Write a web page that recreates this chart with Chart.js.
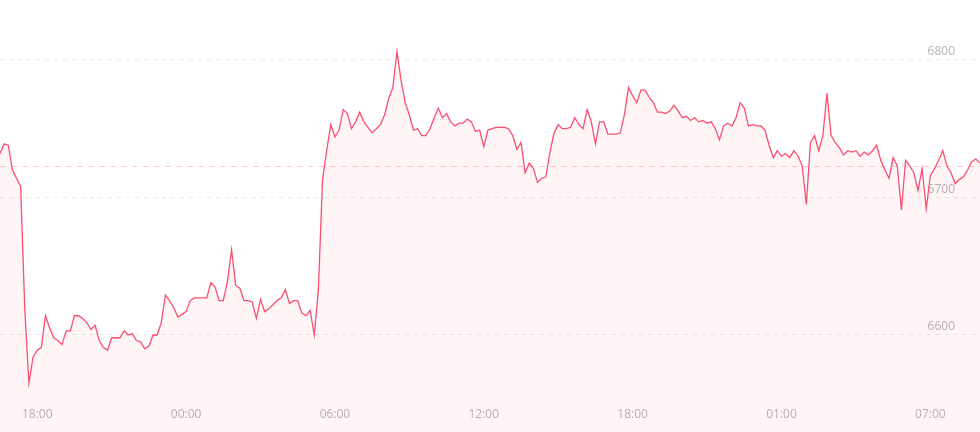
<!DOCTYPE html>
<html>
<head>
<meta charset="utf-8">
<script src="https://cdn.jsdelivr.net/npm/chart.js@4.4.1/dist/chart.umd.min.js"></script>
<style>
  html, body { margin: 0; padding: 0; background: #fff; }
  #wrap { width: 980px; height: 432px; }
</style>
</head>
<body>
<div id="wrap"><canvas id="chart"></canvas></div>
<script>
// 10-minute prices, first point 16:30, one hour missing overnight (00:00-00:50 of day 2)
const prices = [
  6732, 6739, 6738, 6720, 6714, 6708, 6618, 6565, 6584, 6589,
  6591, 6614, 6605, 6598, 6596, 6593, 6603, 6603, 6614, 6614,
  6612, 6609, 6604, 6607, 6596, 6591, 6589, 6598, 6598, 6598,
  6603, 6600, 6601, 6596, 6595, 6590, 6592, 6600, 6600, 6609,
  6629, 6625, 6620, 6613, 6615, 6617, 6625, 6627, 6627, 6627,
  6627, 6638, 6635, 6625, 6625, 6639, 6662, 6636, 6634, 6625,
  6625, 6624, 6612, 6626, 6617, 6619, 6622, 6625, 6627, 6633,
  6623, 6625, 6625, 6616, 6614, 6618, 6600, 6633, 6713, 6734,
  6753, 6744, 6749, 6764, 6761, 6750, 6755, 6762, 6755, 6751,
  6747, 6750, 6753, 6760, 6772, 6780, 6806, 6785, 6769, 6760,
  6749, 6750, 6745, 6745, 6750, 6758, 6765, 6758, 6761, 6755,
  6752, 6754, 6754, 6757, 6755, 6748, 6749, 6737, 6749, 6750,
  6751, 6751, 6751, 6750, 6745, 6735, 6740, 6718, 6725, 6721,
  6711, 6714, 6715, 6733, 6747, 6753, 6750, 6750, 6751, 6758,
  6753, 6750, 6764, 6755, 6739, 6755, 6755, 6746, 6746, 6746,
  6747, 6760, 6780, 6774, 6769, 6778, 6778, 6773, 6769, 6762,
  6762, 6761, 6763, 6767, 6763, 6758, 6759, 6756, 6758, 6755,
  6756, 6754, 6755, 6750, 6742, 6752, 6754, 6752, 6758, 6769,
  6765, 6752, 6753, 6752, 6752, 6749, 6738, 6729, 6734, 6730,
  6732, 6729, 6734, 6730, 6723, 6695, 6740, 6745, 6734, 6745,
  6776, 6745, 6740, 6736, 6731, 6734, 6733, 6734, 6730, 6733,
  6731, 6734, 6738, 6727, 6720, 6714, 6729, 6723, 6691, 6727,
  6723, 6718, 6705, 6721, 6692, 6716, 6721, 6727, 6734, 6723,
  6718, 6710, 6713, 6715, 6720, 6726, 6728, 6725
];
const prevClose = 6723;
const yTicks = [6600, 6700, 6800];
const xTickLabels = ["18:00", "00:00", "06:00", "12:00", "18:00", "01:00", "07:00"];

// time labels for the category axis
const times = [];
let mins = 16 * 60 + 30;
for (let i = 0; i < prices.length; i++) {
  if (i === 184) mins += 60; // overnight break
  const m = mins % (24 * 60);
  times.push(String(Math.floor(m / 60)).padStart(2, "0") + ":" + String(m % 60).padStart(2, "0"));
  mins += 10;
}

const lineColor = "#fa4f6f";
const fillColor = "rgba(250, 79, 111, 0.055)";

// pink band under the axis and the dashed previous-close line
const extras = {
  id: "extras",
  beforeDatasetsDraw(chart) {
    const { ctx, chartArea, scales } = chart;
    ctx.save();
    ctx.fillStyle = fillColor;
    ctx.fillRect(0, chartArea.bottom, chart.width, chart.height - chartArea.bottom);
    const y = scales.y.getPixelForValue(prevClose);
    ctx.strokeStyle = "rgba(250, 79, 111, 0.3)";
    ctx.lineWidth = 1;
    ctx.setLineDash([6, 5]);
    ctx.beginPath();
    ctx.moveTo(chartArea.left, Math.round(y) + 0.5);
    ctx.lineTo(chartArea.right, Math.round(y) + 0.5);
    ctx.stroke();
    ctx.restore();
  }
};

const ctx = document.getElementById("chart").getContext("2d");
new Chart(ctx, {
  type: "line",
  data: {
    labels: times,
    datasets: [{
      data: prices,
      borderColor: lineColor,
      backgroundColor: fillColor,
      borderWidth: 1.3,
      pointRadius: 0,
      tension: 0,
      fill: "start"
    }]
  },
  options: {
    responsive: true,
    maintainAspectRatio: false,
    animation: false,
    layout: { padding: 0 },
    plugins: {
      legend: { display: false },
      tooltip: { enabled: false }
    },
    scales: {
      x: {
        grid: { display: false },
        border: { display: false },
        afterFit(axis) { axis.height = 42; },
        ticks: {
          autoSkip: false,
          maxRotation: 0,
          padding: 9,
          color: "#b4b4b4",
          font: { family: "Open Sans", size: 12 },
          callback(value, index) {
            const k = (index - 9) / 36;
            return Number.isInteger(k) && k >= 0 ? xTickLabels[k] : null;
          }
        }
      },
      y: {
        position: "right",
        min: 6560,
        max: 6843.6,
        afterBuildTicks(scale) {
          scale.ticks = yTicks.map(v => ({ value: v }));
        },
        afterFit(axis) {
          axis.width = 0;
          axis.paddingTop = 0;
          axis.paddingBottom = 0;
        },
        grid: {
          color: "#e9e9e9",
          drawTicks: false
        },
        border: { display: false, dash: [4, 5] },
        ticks: {
          mirror: true,
          padding: -25,
          labelOffset: -8,
          color: "#b4b4b4",
          font: { family: "Open Sans", size: 12 },
          callback: v => String(v)
        }
      }
    }
  },
  plugins: [extras]
});
</script>
</body>
</html>
